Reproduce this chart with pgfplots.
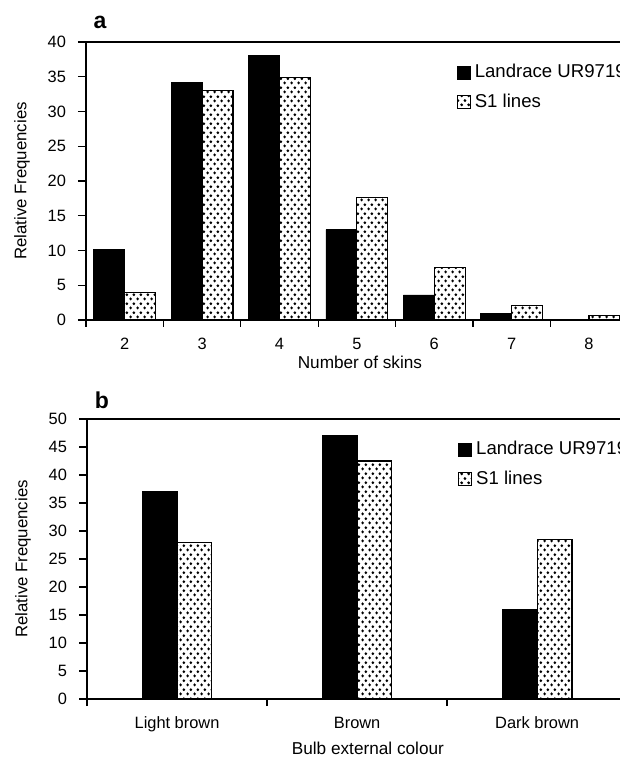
\documentclass[border=0pt]{standalone}
\usepackage{fontspec}
\setmainfont{Liberation Sans}
\usepackage{pgfplots}
\usepackage{pgfplotstable}
\pgfplotsset{compat=1.18}
\usetikzlibrary{patterns}

\pgfdeclarepatternformonly{bigdots}{\pgfpointorigin}{\pgfpoint{3.6pt}{4.6pt}}{\pgfpoint{3.6pt}{4.6pt}}{%
  \pgfpathcircle{\pgfpoint{0.9pt}{1.15pt}}{0.82pt}%
  \pgfpathcircle{\pgfpoint{2.7pt}{3.45pt}}{0.82pt}%
  \pgfusepath{fill}%
}

\pgfplotstableread{
x L S
2 10.1 4.0
3 34.2 33.0
4 38.1 34.9
5 13.0 17.6
6 3.6 7.5
7 1.0 2.1
8 0.0 0.6
}\skinsdata

\pgfplotstableread{
x L S
0 37.0 28.0
1 47.0 42.5
2 16.0 28.5
}\colourdata

\pgfplotsset{
  mybars/.style={
    scale only axis,
    axis x line*=bottom, axis y line*=left,
    axis line style={-, line width=0.75pt},
    ybar=0pt,
    tick align=outside,
    ymin=0,
    /pgf/number format/assume math mode=true,
    ticklabel style={font=\fontsize{8.2}{9}\selectfont},
    yticklabel style={xshift=-2.5pt},
    xticklabel style={yshift=-1.5pt},
    ytick style={black, line width=0.65pt},
    major tick length=4pt,
    minor tick length=3.5pt,
    major x tick style={draw=none},
    minor x tick style={black, line width=0.65pt},
    ylabel={Relative Frequencies},
    ylabel style={font=\fontsize{8.4}{9}\selectfont, at={(axis description cs:-0.12,0.5)}, anchor=center},
    xlabel style={font=\fontsize{8.6}{9}\selectfont, anchor=center},
    legend style={draw=none, fill=none, font=\fontsize{9.3}{11}\selectfont, anchor=north west, row sep=2.5pt},
    legend cell align=left,
    legend image code/.code={\draw[#1] (0pt,-3.2pt) rectangle (6.5pt,3.2pt);},
    clip=false,
  },
  blackbar/.style={fill=black, draw=black},
  dotbar/.style={fill=white, draw=black, line width=0.6pt, postaction={pattern=bigdots}},
}

\begin{document}
\begin{tikzpicture}
\useasboundingbox (0,0) rectangle (310pt,380pt);
% panel a
\begin{axis}[mybars,
  at={(43pt,220pt)}, width=267pt, height=139pt,
  xmin=1.5, xmax=8.4, ymax=40, ytick={0,5,...,40},
  xtick={2,...,8}, minor xtick={1.5,2.5,...,8.5},
  bar width=0.4,
  xlabel={Number of skins},
  xlabel style={at={(axis description cs:0.513,-0.151)}},
  legend style={at={(axis description cs:0.682,0.95)}},
]
\addplot[blackbar] table[x=x,y=L]{\skinsdata};
\addplot[dotbar] table[x=x,y=S]{\skinsdata};
\legend{Landrace UR9719, S1 lines}
\draw[line width=0.75pt] (rel axis cs:0,1) -- (rel axis cs:1.2,1);
\end{axis}
\node[font=\bfseries\fontsize{11.5}{12}\selectfont] at (50pt,369pt) {a};
% panel b
\begin{axis}[mybars,
  at={(43.5pt,30.5pt)}, width=266.5pt, height=140pt,
  xmin=-0.5, xmax=2.46, ymax=50, ytick={0,5,...,50},
  xtick={0,1,2}, xticklabels={Light brown, Brown, Dark brown},
  minor xtick={-0.5,0.5,1.5,2.5},
  bar width=0.193,
  xlabel={Bulb external colour},
  xlabel style={at={(axis description cs:0.527,-0.175)}},
  legend style={at={(axis description cs:0.684,0.95)}},
]
\addplot[blackbar] table[x=x,y=L]{\colourdata};
\addplot[dotbar] table[x=x,y=S]{\colourdata};
\legend{Landrace UR9719, S1 lines}
\draw[line width=0.75pt] (rel axis cs:0,1) -- (rel axis cs:1.2,1);
\end{axis}
\node[font=\bfseries\fontsize{11.5}{12}\selectfont] at (51pt,180pt) {b};
\end{tikzpicture}
\end{document}
